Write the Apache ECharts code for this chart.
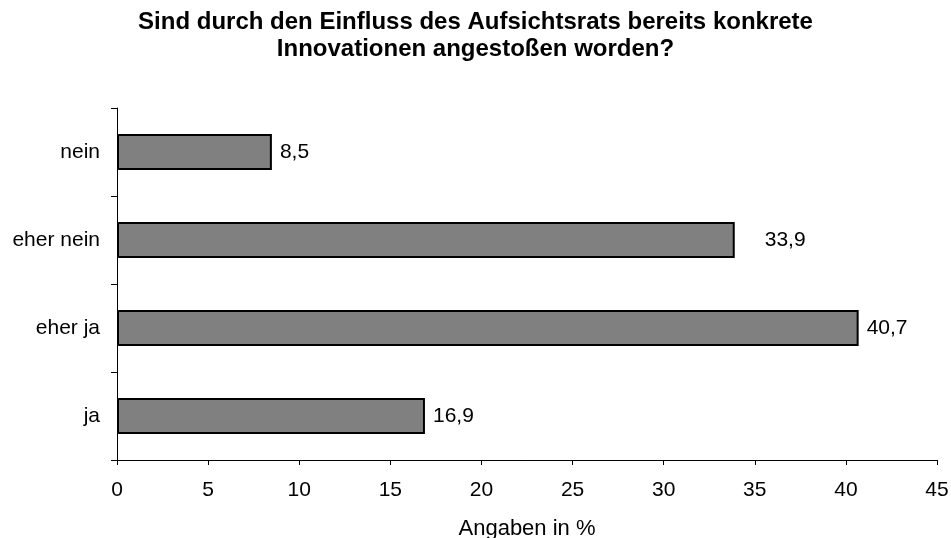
<!DOCTYPE html>
<html>
<head>
<meta charset="utf-8">
<script src="https://cdn.jsdelivr.net/npm/echarts@6/dist/echarts.min.js"></script>
<style>
    html, body { margin: 0; padding: 0; background: #fff; }
    #chart { width: 951px; height: 538px; }
</style>
</head>
<body>
<div id="chart"></div>
<script>
    // Antworten von unten nach oben (Kategorieachse)
    const categories = ['ja', 'eher ja', 'eher nein', 'nein'];
    const values = [16.9, 40.7, 33.9, 8.5];
    const xTicks = [0, 5, 10, 15, 20, 25, 30, 35, 40, 45];

    const font = 'Liberation Sans, Arial, sans-serif';
    const myChart = echarts.init(document.getElementById('chart'));

    const barData = values.map((v, i) => {
        const item = { value: v };
        // im Original steht "33,9" deutlich weiter vom Balken weg
        if (categories[i] === 'eher nein') {
            item.label = { distance: 30 };
        }
        return item;
    });

    const chartOption = {
        animation: false,
        title: {
            text: 'Sind durch den Einfluss des Aufsichtsrats bereits konkrete\nInnovationen angestoßen worden?',
            left: 'center',
            top: 4,
            textStyle: {
                fontFamily: font,
                fontSize: 24,
                fontWeight: 'bold',
                color: '#000',
                lineHeight: 27
            }
        },
        grid: {
            left: 117,
            right: 14,
            top: 108,
            bottom: 78,
            outerBoundsMode: 'none'
        },
        xAxis: {
            type: 'value',
            min: xTicks[0],
            max: xTicks[xTicks.length - 1],
            interval: 5,
            name: 'Angaben in %',
            nameLocation: 'middle',
            nameGap: 58,
            nameTextStyle: { fontFamily: font, fontSize: 22, color: '#000' },
            splitLine: { show: false },
            axisLine: { show: true, lineStyle: { color: '#000', width: 1 } },
            axisTick: { show: true, length: 5, lineStyle: { color: '#000' } },
            axisLabel: {
                fontFamily: font,
                fontSize: 21,
                color: '#000',
                margin: 20,
                formatter: v => String(v)
            }
        },
        yAxis: {
            type: 'category',
            data: categories,
            axisLine: { show: true, lineStyle: { color: '#000', width: 1 } },
            axisTick: { show: true, length: 6, lineStyle: { color: '#000' } },
            axisLabel: {
                fontFamily: font,
                fontSize: 21,
                color: '#000',
                margin: 17
            }
        },
        series: [
            {
                type: 'bar',
                data: barData,
                barWidth: 36,
                itemStyle: {
                    color: '#808080',
                    borderColor: '#000',
                    borderWidth: 2
                },
                label: {
                    show: true,
                    position: 'right',
                    distance: 8,
                    fontFamily: font,
                    fontSize: 21,
                    color: '#000',
                    formatter: p => p.value.toFixed(1).replace('.', ',')
                }
            }
        ]
    };
    myChart.setOption(chartOption);
</script>
</body>
</html>
